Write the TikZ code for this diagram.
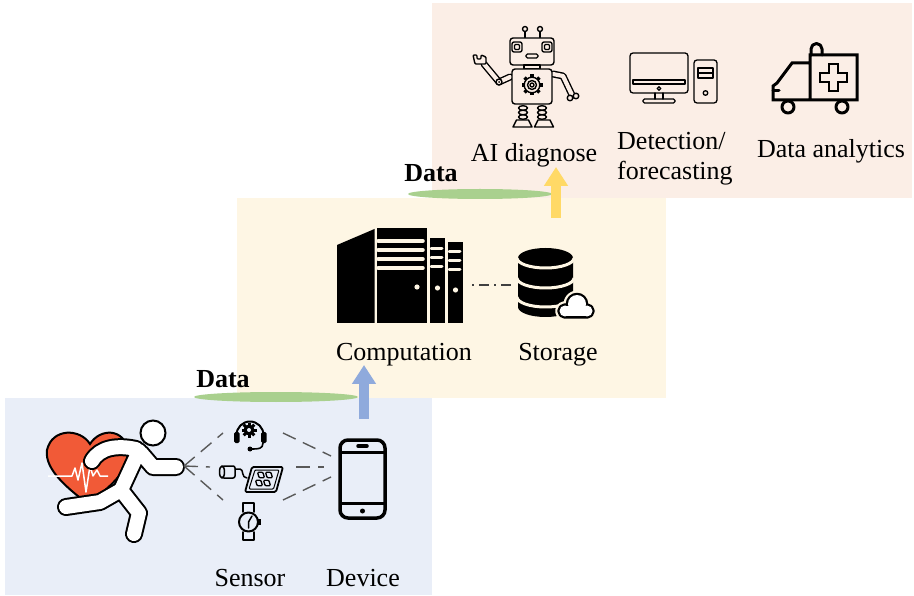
\documentclass[tikz,border=0pt]{standalone}
\usepackage{fontspec}
\setmainfont{Liberation Serif}
\usetikzlibrary{arrows.meta,positioning,calc}

\definecolor{sensebg}{RGB}{233,238,248}
\definecolor{cloudbg}{RGB}{254,246,228}
\definecolor{appbg}{RGB}{251,238,230}
\definecolor{linkgreen}{RGB}{169,208,142}
\definecolor{upblue}{RGB}{143,170,220}
\definecolor{upyellow}{RGB}{255,217,102}
\definecolor{heartred}{RGB}{241,90,55}

\begin{document}
\begin{tikzpicture}[
    x=1pt, y=-1pt,
    labeltext/.style={font=\fontsize{26}{30}\selectfont, anchor=base, inner sep=0pt},
    datatext/.style={labeltext, font=\fontsize{26}{30}\selectfont\bfseries},
    uparrow/.style={line width=10pt, -{Triangle[width=23pt, length=19pt]}},
    sig/.style={draw=black!65, line width=1.4pt, dash pattern=on 14pt off 8pt},
    icon/.style={draw=black, line width=1.4pt, line cap=round, line join=round}
]
\fill[white] (0,0) rectangle (914,596);
\useasboundingbox (0,0) rectangle (914,596);

% Layers
\fill[sensebg] (5,398) rectangle (432,595);
\fill[cloudbg] (237,198) rectangle (666,398);
\fill[appbg] (432,3) rectangle (912,198);

% Data links
\fill[linkgreen] (276,397) ellipse [x radius=82, y radius=5];
\fill[linkgreen] (480,194) ellipse [x radius=72, y radius=5];
\node[datatext] (data1) at (223,388) {Data};
\node[datatext] (data2) at (431,182) {Data};

\coordinate (flow1a) at (364,419);
\coordinate (flow1b) at (364,365);
\coordinate (flow2a) at (556,218);
\coordinate (flow2b) at (556,167);
\draw[uparrow, upblue] (flow1a) -- (flow1b);
\draw[uparrow, upyellow] (flow2a) -- (flow2b);

% Heart
\draw[fill=heartred, line width=2pt] (90,444) .. controls (80,428) and (52,428) .. (47,450)
    .. controls (44,470) and (70,490) .. (88,504) .. controls (106,490) and (132,470) .. (128,450)
    .. controls (124,428) and (100,428) .. (90,444) -- cycle;
\draw[white, line width=1.5pt, line join=round] (48,476) -- (72,476) -- (75,468) -- (78,480)
    -- (82,463) -- (86,492) -- (90,466) -- (93,476) -- (97,470) -- (100,476) -- (108,476);

% Runner
\foreach \w/\c in {18/black, 14/white}
  \draw[line width=\w pt, draw=\c, line cap=round, line join=round]
    (92,461) .. controls (100,447) and (118,445) .. (136,449)
    (139,451) -- (121,490)
    (141,453) -- (153,467) -- (176,467)
    (121,490) -- (100,502) -- (66,507)
    (121,490) -- (139,513) -- (134,534);
\draw[fill=white, line width=2pt] (153,433) circle (12.5);

% Sensors
\coordinate (hand) at (184,466);
\coordinate (hs w) at (223,433);
\coordinate (hs e) at (283,433);
\coordinate (pad w) at (210,467);
\coordinate (pad e) at (296,467);
\coordinate (wt w) at (223,500);
\coordinate (wt e) at (283,500);
\coordinate (ph nw) at (331,456);
\coordinate (ph w) at (324,467);
\coordinate (ph sw) at (331,477);

\draw[sig] (hand) -- (hs w);
\draw[sig] (hand) -- (pad w);
\draw[sig] (hand) -- (wt w);
\draw[sig] (hs e) -- (ph nw);
\draw[sig] (pad e) -- (ph w);
\draw[sig] (wt e) -- (ph sw);

% headset
\foreach \a in {0,45,90,135}
  \fill[rotate around={\a:(249,430)}] (247.5,422.5) rectangle (250.5,437.5);
\fill (249,430) circle (5.5);
\fill[sensebg] (249,430) circle (2);
\draw[icon, line width=2pt] (236.5,435) arc[start angle=180, end angle=360, radius=13.5];
\fill[rounded corners=1.5pt] (234,432) rectangle (239.5,443);
\fill[rounded corners=1.5pt] (261,432) rectangle (266.5,443);
\draw[icon, line width=1.6pt] (263,443) .. controls (263,449) and (258,449) .. (252,449);
\fill (250,449) circle (2.5);

% patch and pad
\draw[icon, line width=1.5pt, fill=sensebg, rounded corners=2pt] (222,466) rectangle (235,478);
\draw[icon, line width=1.5pt, fill=sensebg] (222,472) ellipse [x radius=2.5, y radius=6];
\draw[icon, line width=1.5pt] (235,469) -- (240,469) .. controls (244,469) and (241,478) .. (247,478);
\draw[icon, line width=1.8pt, rounded corners=1.5pt] (252,467) -- (283,467) -- (276,492) -- (245,492) -- cycle;
\draw[icon, line width=1pt, rounded corners=1pt] (255,470) -- (279,470) -- (273.5,489) -- (249,489) -- cycle;
\foreach \px/\py in {261/475, 269/475, 259/483, 267/483}
  \draw[icon, line width=1.3pt, rounded corners=1pt, shift={(\px,\py)}, xslant=-0.28]
    (-2.7,-2.7) rectangle (2.7,2.7);

% watch
\draw[icon, line width=1.8pt] (243,512) -- (243,503) -- (254,503) -- (254,512);
\draw[icon, line width=1.8pt] (243,532) -- (243,540) -- (254,540) -- (254,532);
\fill (257,519) rectangle (261,525);
\draw[icon, line width=2pt, fill=sensebg] (248.5,522) circle (9.5);
\draw[icon, line width=1.5pt] (252,516) -- (248.5,522) -- (248.5,528);

% phone
\node[draw, line width=3.5pt, rounded corners=8pt, minimum width=45pt, minimum height=78pt, inner sep=0pt] (phone) at (362.5,479) {};
\draw[line width=3pt] (340,452) -- (385,452);
\draw[line width=3pt] (340,503) -- (385,503);
\draw[line width=3.5pt, line cap=round] (358,446) -- (367,446);
\fill (362.5,511) circle (2.5);

\node[labeltext] (sensor) at (250,586) {Sensor};
\node[labeltext] (device) at (363,586) {Device};

% Server racks
\fill (337,245) -- (374.5,229) -- (374.5,323) -- (337,323) -- cycle;
\fill (377,228) rectangle (427,323);
\fill (430,238) rectangle (445,323);
\fill (448,242) rectangle (463,323);
\foreach \sy in {241,250,259,268}
  \draw[cloudbg, line width=3.5pt, line cap=round] (378,\sy) -- (423,\sy);
\foreach \sy in {249,258,267}
  \draw[cloudbg, line width=3pt, line cap=round] (431,\sy) -- (442,\sy);
\foreach \sy in {252,261,270}
  \draw[cloudbg, line width=3pt, line cap=round] (449,\sy) -- (460,\sy);
\fill[cloudbg] (417,287) circle (2.6);
\fill[cloudbg] (437.5,288) circle (2.6);
\fill[cloudbg] (455.5,290) circle (2.6);

% Storage
\fill (518,258) -- (518,307) arc[start angle=180, end angle=0, x radius=27.5, y radius=10]
    -- (573,258) arc[start angle=0, end angle=-180, x radius=27.5, y radius=10] -- cycle;
\foreach \sy in {258,278,297}
  \draw[cloudbg, line width=3pt] (517,\sy) arc[start angle=180, end angle=0, x radius=28.5, y radius=10];
\foreach \c/\w in {cloudbg/9, black/4.5}
  \draw[\c, line width=\w pt, line join=round] (565,311) circle (5.5) (577,304) circle (9) (587,311) circle (5.5) (565,306) rectangle (587,316.5);
\fill[white] (565,311) circle (5.5);
\fill[white] (577,304) circle (9);
\fill[white] (587,311) circle (5.5);
\fill[white] (565,306) rectangle (587,316.5);

\coordinate (rack e) at (472,285);
\coordinate (disk w) at (512,285);
\draw[black!75, line width=1.3pt, dash pattern=on 2pt off 5pt on 10pt off 5pt] (rack e) -- (disk w);

\node[labeltext] (comp) at (404,360) {Computation};
\node[labeltext] (store) at (558,360) {Storage};

% Robot
\foreach \w/\c in {7/black, 4.2/appbg}
  \draw[line width=\w pt, draw=\c, line cap=round, line join=round]
    (510,77) -- (499,82) -- (484,64) (553,74) -- (563,76) -- (572,95);
\draw[icon, fill=appbg] (499,82) circle (3);
\fill (499,82) circle (1);
\draw[icon, fill=appbg, rounded corners=1pt] (473,55) -- (477,55) -- (477,59) -- (481,59) -- (481,55) -- (486,57) -- (486,64) -- (475,64) -- cycle;
\draw[icon, fill=appbg] (570,98) circle (2.8) (576,96) circle (2.8);
\draw[icon] (525,38) -- (525,32) (540,38) -- (540,32);
\draw[icon] (525,29) circle (2.5) (540,29) circle (2.5);
\draw[icon, fill=appbg, rounded corners=3pt] (510,38) rectangle (554,65);
\foreach \ex in {517,547} {
  \draw[icon, rounded corners=2pt] (\ex-5,42) rectangle (\ex+5,52);
  \draw[icon, rounded corners=1pt] (\ex-2.5,44.5) rectangle (\ex+2.5,49.5);
}
\draw[icon, rounded corners=1.5pt] (526,54) rectangle (538,58);
\draw[icon] (524,65) rectangle (540,69);
\draw[icon, fill=appbg, rounded corners=3pt] (512,69) rectangle (552,104);
\foreach \a in {0,45,...,315}
  \draw[icon, line width=3.4pt, line cap=butt] ($(532,85)+(\a:7)$) -- ($(532,85)+(\a:10.5)$);
\draw[icon, fill=appbg] (532,85) circle (7.8);
\draw[icon] (532,85) circle (4.5);
\draw[icon] (532,85) circle (2);

\foreach \lx/\fx in {523/522.5, 542/544} {
  \foreach \ly in {108,112.5,117}
    \draw[icon] (\lx,\ly) ellipse [x radius=4.5, y radius=2.3];
  \draw[icon] (\fx-9.5,127) -- (\fx-6,120) -- (\fx+6,120) -- (\fx+9.5,127) -- cycle;
}

% Computer
\draw[icon, line width=1.3pt, rounded corners=3pt] (630,53) rectangle (688,93);
\draw[icon, line width=1.3pt] (633,80) rectangle (685,84);
\draw[icon, line width=1.3pt] (659,88.5) circle (1.8);
\draw[icon, line width=1.3pt] (655,93) -- (655,99) (663,93) -- (663,99);
\draw[icon, line width=1.3pt, rounded corners=1.5pt] (643,99) rectangle (675,103);
\draw[icon, line width=1.3pt, rounded corners=3pt] (694,60) rectangle (717,103);
\draw[icon, line width=1.3pt] (698,68) rectangle (713,78) (698,73) -- (713,73);
\draw[icon, line width=1.3pt] (705.5,93) circle (2.3);

% Ambulance
\draw[icon, line width=3pt, line cap=butt, line join=miter] (810,100) -- (810,55) -- (857,55) -- (857,100) -- (773,100) -- (773,86) -- (777,83) -- (792,63) -- (810,63);
\draw[icon, line width=3pt] (811,55) -- (811,49) arc[start angle=180, end angle=360, radius=5.5] -- (822,55);
\draw[icon, line width=3pt] (773,91) -- (779,91);
\draw[icon, line width=2.8pt, line join=miter] (829,64) -- (838,64) -- (838,73) -- (847,73) -- (847,82) -- (838,82) -- (838,91) -- (829,91) -- (829,82) -- (820,82) -- (820,73) -- (829,73) -- cycle;
\draw[icon, line width=3pt, fill=appbg] (788,107) circle (6) (842,107) circle (6);

\node[labeltext] (aidiag) at (534,162) {AI diagnose};
\node[labeltext, anchor=base west, align=left] (detect) at (617,180) {Detection/\\forecasting};
\node[labeltext] (analytics) at (831,158) {Data analytics};
\end{tikzpicture}
\end{document}
